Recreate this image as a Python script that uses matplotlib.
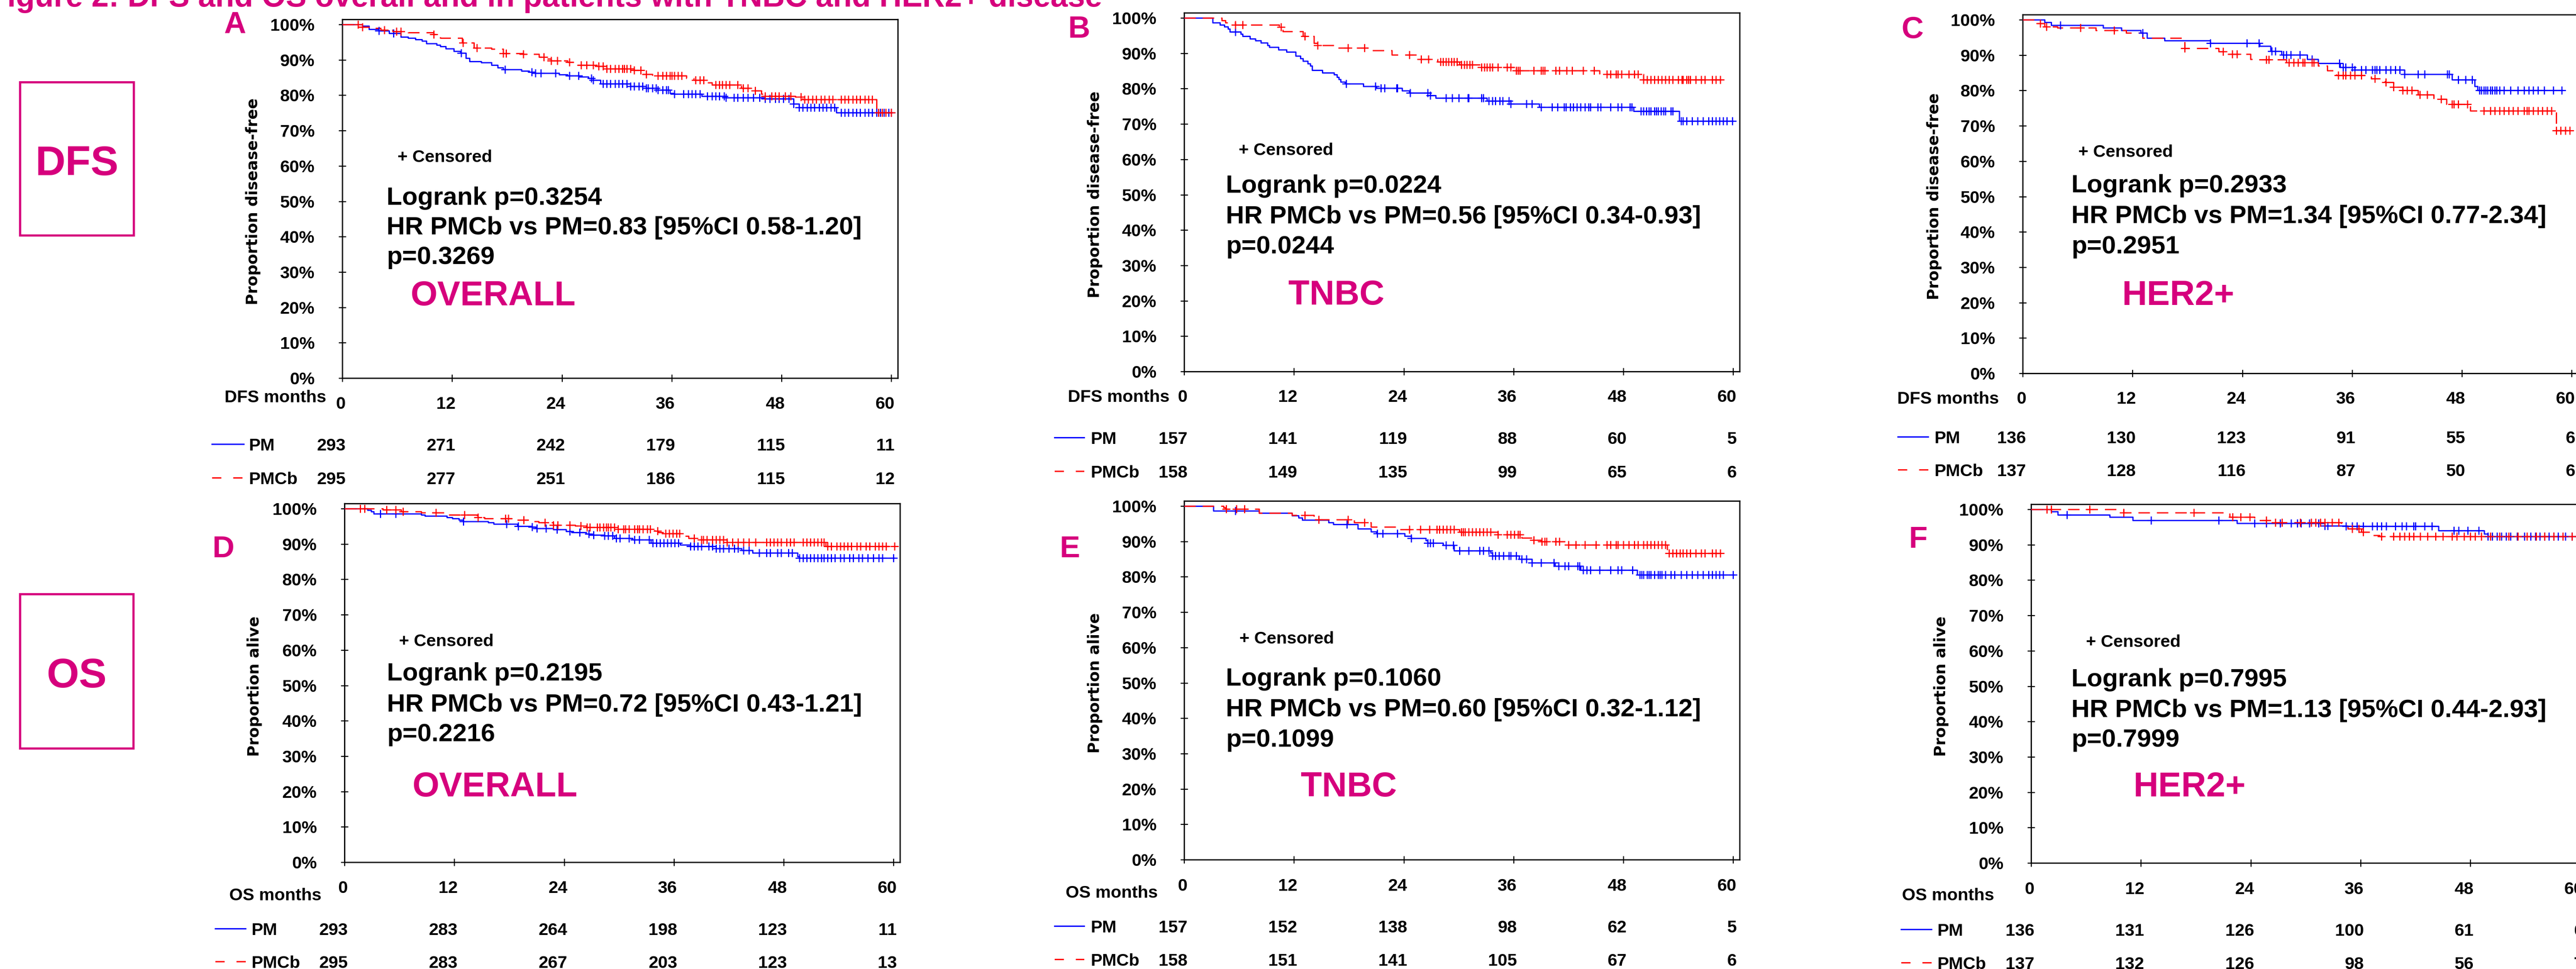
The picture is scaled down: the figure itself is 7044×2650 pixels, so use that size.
import numpy as np
import matplotlib
matplotlib.use('Agg')
import matplotlib.pyplot as plt
from matplotlib.lines import Line2D
from matplotlib.patches import Rectangle
import matplotlib.transforms as mtransforms

plt.rcParams['font.family'] = ['Liberation Sans', 'DejaVu Sans']
plt.rcParams['font.weight'] = 'bold'

# ======================= DATA =======================
TITLE = "Figure 2: DFS and OS overall and in patients with TNBC and HER2+ disease"
MONTH_TICKS = [0, 12, 24, 36, 48, 60]
PCT_TICKS = list(range(0, 101, 10))
ARMS = ["PM", "PMCb"]

# ---- Panel A: DFS overall ----
A_PM_t = [2.2, 2.9, 4.0, 5.1, 6.4, 7.2, 8.0, 8.7, 9.2, 10.3, 10.7, 11.3, 12.2, 12.9, 13.5, 13.9, 15.2, 16.3, 17.0, 17.6,
          19.6, 20.4, 21.1, 23.7, 24.6, 25.9, 26.9, 27.4, 28.2, 31.5, 33.2, 34.5, 35.8, 36.3, 39.3, 41.9, 46.2, 49.3, 49.9, 54.0]
A_PM_s = [99.6, 98.7, 98.2, 97.5, 96.5, 96.2, 95.8, 95.4, 94.6, 94.2, 93.8, 93.2, 92.5, 91.9, 90.5, 89.6, 89.2, 88.5, 87.8, 87.3,
          86.9, 86.6, 86.2, 85.8, 85.5, 85.2, 84.8, 84.3, 83.3, 82.5, 82.0, 81.5, 80.6, 80.4, 79.7, 79.3, 79.0, 77.6, 76.5, 75.1]
A_PM_end = 60.1
A_PM_c = [4.0, 5.6, 13.0, 17.8, 20.7, 21.1, 21.7, 23.3, 24.8, 25.8, 27.2, 27.4, 28.5, 28.9, 29.3, 29.8, 30.2, 30.6, 31.1, 31.5,
          31.9, 32.4, 32.8, 33.2, 33.4, 33.9, 34.3, 34.5, 35.0, 35.4, 35.6, 36.3, 37.3, 37.8, 38.2, 38.6, 39.1, 39.9, 40.4, 40.8,
          41.2, 41.7, 41.9, 42.8, 43.2, 43.8, 44.3, 44.9, 45.6, 46.2, 46.7, 47.3, 47.7, 48.2, 48.8, 49.3, 49.9, 50.3, 50.8, 51.2,
          51.6, 52.1, 52.5, 52.9, 53.4, 53.8, 54.5, 54.9, 55.3, 55.8, 56.2, 56.6, 57.1, 57.5, 57.9, 58.4, 58.8, 59.2, 59.7, 60.0]
A_PMCb_t = [1.8, 2.9, 4.2, 5.5, 7.2, 10.0, 10.7, 13.1, 14.4, 16.3, 17.6, 19.8, 21.5, 22.2, 22.8, 24.6, 25.6, 27.8, 28.9, 31.9,
            32.8, 33.9, 37.6, 38.4, 39.7, 40.4, 43.6, 44.9, 45.8, 46.2, 49.5, 50.3, 58.4]
A_PMCb_s = [99.3, 99.0, 98.4, 98.0, 97.7, 97.2, 96.2, 94.8, 93.4, 93.1, 91.8, 91.6, 90.8, 90.3, 89.8, 89.4, 88.5, 88.2, 87.5, 87.1,
            85.9, 85.5, 84.8, 84.3, 83.6, 82.9, 82.0, 81.3, 80.4, 79.7, 79.5, 78.8, 75.1]
A_PMCb_end = 60.1
A_PMCb_c = [1.7, 2.2, 4.6, 5.9, 6.4, 10.0, 13.2, 14.7, 17.6, 17.9, 19.8, 22.0, 22.8, 23.5, 24.8, 26.1, 26.7, 27.4, 28.0, 28.5,
            28.9, 29.3, 29.8, 30.2, 30.6, 30.8, 31.1, 31.5, 31.9, 32.6, 33.2, 34.5, 35.0, 35.4, 35.8, 36.0, 36.3, 36.7, 37.1, 38.6,
            39.1, 39.5, 40.8, 41.2, 41.5, 41.9, 42.3, 43.2, 43.8, 44.3, 45.1, 46.2, 46.9, 47.3, 47.7, 48.4, 49.0, 50.1, 50.5, 50.9,
            51.4, 51.8, 52.3, 52.7, 53.2, 53.6, 54.5, 54.9, 55.3, 55.8, 56.2, 56.6, 57.1, 57.5, 57.9, 58.6, 59.0, 59.4, 60.0]
A_RISK_PM = [293, 271, 242, 179, 115, 11]
A_RISK_PMCb = [295, 277, 251, 186, 115, 12]
A_STATS = ["Logrank p=0.3254", "HR PMCb vs PM=0.83 [95%CI 0.58-1.20]", "p=0.3269"]

# ---- Panel B: DFS TNBC ----
B_PM_t = [3.1, 3.9, 4.4, 4.8, 5.0, 6.2, 6.4, 7.2, 7.8, 8.4, 9.1, 9.3, 10.3, 11.2, 12.2, 12.7, 13.0, 13.5, 13.8, 14.0,
          15.1, 16.4, 16.7, 16.9, 17.1, 17.6, 19.6, 21.0, 23.8, 24.6, 26.9, 27.5, 33.1, 35.7, 38.8, 49.1, 54.1]
B_PM_s = [98.7, 98.0, 97.5, 96.9, 96.1, 95.5, 94.8, 94.1, 93.6, 93.0, 92.2, 91.7, 91.0, 90.4, 89.2, 88.5, 87.8, 87.1, 86.5, 85.2,
          84.5, 84.0, 83.3, 82.6, 81.9, 81.4, 80.7, 80.1, 79.4, 78.8, 78.1, 77.4, 76.5, 75.7, 74.8, 73.6, 70.8]
B_PM_end = 60.0
B_PM_c = [5.6, 17.7, 20.9, 21.5, 21.9, 23.2, 23.3, 24.7, 26.6, 26.9, 28.6, 29.3, 30.0, 31.0, 31.1, 32.5, 32.7, 33.3, 33.7, 34.0,
          34.5, 34.8, 35.5, 35.7, 37.4, 38.0, 39.0, 40.2, 40.8, 41.5, 41.7, 42.2, 42.5, 42.9, 43.3, 43.8, 44.2, 44.4, 45.2, 45.5,
          46.6, 47.4, 47.8, 48.7, 48.9, 49.9, 50.2, 50.5, 50.8, 51.0, 51.4, 51.6, 51.8, 52.1, 52.4, 52.6, 53.2, 53.4, 54.3, 54.5,
          54.9, 55.5, 56.1, 56.7, 57.3, 57.7, 58.1, 58.5, 58.9, 59.3, 59.9]
B_PMCb_t = [4.1, 4.5, 5.6, 10.4, 10.8, 13.0, 14.2, 14.6, 16.8, 20.4, 22.7, 25.7, 27.7, 30.1, 32.3, 36.3, 45.4, 50.2]
B_PMCb_s = [99.3, 98.7, 98.0, 97.4, 96.2, 94.8, 92.9, 92.2, 91.5, 90.8, 89.6, 88.3, 87.6, 86.8, 86.0, 85.1, 84.1, 82.5]
B_PMCb_end = 58.7
B_PMCb_c = [5.6, 6.4, 10.6, 13.2, 14.6, 17.9, 19.7, 24.6, 25.9, 26.7, 28.0, 28.3, 28.6, 28.9, 29.2, 29.5, 29.8, 30.3, 30.6, 30.9,
            31.2, 31.5, 32.5, 32.8, 33.1, 33.4, 33.7, 34.3, 35.3, 35.7, 36.3, 36.5, 36.7, 38.2, 39.0, 39.2, 39.4, 40.6, 41.0, 41.8,
            42.4, 43.6, 44.8, 46.2, 46.6, 47.2, 47.4, 47.8, 48.6, 49.2, 49.6, 50.2, 50.6, 51.0, 51.4, 51.8, 52.2, 52.6, 53.0, 53.4,
            54.0, 54.4, 54.5, 54.9, 55.1, 55.3, 55.9, 56.5, 56.9, 57.7, 58.1, 58.6]
B_RISK_PM = [157, 141, 119, 88, 60, 5]
B_RISK_PMCb = [158, 149, 135, 99, 65, 6]
B_STATS = ["Logrank p=0.0224", "HR PMCb vs PM=0.56 [95%CI 0.34-0.93]", "p=0.0244"]

# ---- Panel C: DFS HER2+ ----
C_PM_t = [2.4, 3.1, 8.8, 10.8, 12.9, 13.6, 15.5, 20.5, 25.9, 27.1, 28.3, 31.1, 32.3, 34.7, 36.3, 41.7, 46.9, 49.4, 49.7]
C_PM_s = [99.3, 98.4, 97.7, 97.0, 96.3, 94.8, 94.1, 93.4, 92.6, 91.1, 90.1, 88.8, 87.7, 86.6, 85.8, 84.6, 83.0, 81.2, 80.0]
C_PM_end = 59.0
C_PM_c = [4.1, 13.1, 20.5, 24.5, 25.8, 27.2, 27.6, 28.5, 28.8, 29.3, 30.3, 31.6, 34.6, 35.0, 35.3, 36.0, 36.3, 37.0, 37.5, 38.2,
          38.5, 38.7, 39.0, 39.7, 40.2, 40.7, 41.2, 41.7, 43.2, 43.9, 46.4, 46.6, 47.6, 48.4, 49.1, 49.9, 50.1, 50.4, 50.6, 50.8,
          51.1, 51.3, 51.6, 51.8, 52.1, 52.6, 53.3, 54.1, 54.8, 55.3, 55.8, 56.3, 57.0, 58.0, 58.9]
C_PMCb_t = [1.6, 2.4, 3.8, 8.0, 11.3, 13.1, 17.7, 21.4, 22.2, 24.9, 25.6, 28.8, 32.3, 33.3, 34.3, 38.1, 39.6, 40.5, 41.5, 43.2,
            44.9, 46.3, 48.9, 58.3]
C_PMCb_s = [99.0, 98.0, 97.7, 97.0, 96.3, 94.8, 91.9, 91.0, 90.3, 88.8, 88.7, 87.9, 87.0, 85.6, 84.3, 83.4, 82.3, 81.0, 80.0, 78.8,
            77.6, 76.1, 74.3, 68.7]
C_PMCb_end = 60.0
C_PMCb_c = [1.9, 2.6, 6.3, 10.0, 17.7, 21.9, 22.9, 23.4, 26.6, 26.9, 29.1, 29.6, 30.1, 30.6, 30.8, 31.6, 31.8, 34.5, 35.0, 35.3,
            35.8, 36.3, 37.0, 38.5, 39.7, 40.5, 41.5, 42.0, 42.5, 43.4, 44.2, 45.7, 46.9, 47.1, 47.6, 48.6, 50.4, 51.1, 51.6, 52.1,
            52.6, 53.1, 53.6, 54.1, 54.8, 55.1, 55.3, 55.8, 56.3, 56.8, 57.3, 57.8, 58.3, 58.8, 59.3, 59.8]
C_RISK_PM = [136, 130, 123, 91, 55, 6]
C_RISK_PMCb = [137, 128, 116, 87, 50, 6]
C_STATS = ["Logrank p=0.2933", "HR PMCb vs PM=1.34 [95%CI 0.77-2.34]", "p=0.2951"]

# ---- Panel D: OS overall ----
D_PM_t = [2.5, 2.9, 3.2, 8.4, 8.8, 11.2, 11.8, 12.5, 13.0, 15.7, 16.3, 18.9, 20.4, 20.9, 22.8, 24.2, 24.8, 26.4, 26.8, 28.4,
          29.5, 31.5, 33.5, 36.7, 37.8, 40.6, 43.4, 44.6, 49.5, 49.7]
D_PM_s = [99.6, 99.2, 98.6, 98.2, 97.9, 97.5, 97.2, 96.8, 96.4, 96.1, 95.7, 95.0, 94.8, 94.4, 94.1, 93.6, 93.3, 92.9, 92.6, 92.3,
          91.6, 91.2, 90.3, 89.8, 89.3, 88.7, 88.2, 87.5, 86.5, 86.0]
D_PM_end = 60.1
D_PM_c = [3.9, 5.6, 13.0, 17.7, 19.0, 20.5, 21.0, 22.0, 23.2, 24.6, 25.7, 26.7, 27.2, 28.4, 28.8, 29.3, 29.7, 30.1, 31.1, 31.7,
          32.2, 33.3, 33.7, 34.1, 34.5, 34.9, 35.3, 35.7, 36.1, 36.5, 37.8, 38.2, 38.6, 39.0, 39.8, 40.2, 40.6, 41.0, 41.4, 42.0,
          42.6, 43.0, 43.6, 44.2, 45.3, 46.1, 46.5, 47.3, 47.7, 48.5, 48.9, 49.7, 50.1, 50.5, 50.9, 51.3, 51.7, 52.1, 52.4, 52.8,
          53.2, 53.6, 54.2, 54.6, 55.2, 55.6, 56.2, 56.6, 57.2, 57.8, 58.4, 58.8, 60.0]
D_PMCb_t = [4.2, 6.2, 8.4, 11.0, 14.5, 15.3, 18.5, 20.3, 21.2, 22.8, 25.2, 26.4, 29.9, 33.9, 34.3, 35.1, 36.9, 37.6, 38.4, 41.8, 52.6]
D_PMCb_s = [99.7, 99.2, 98.9, 98.2, 97.5, 97.2, 96.8, 96.4, 96.1, 95.4, 95.1, 94.7, 94.2, 93.7, 93.3, 93.0, 92.2, 91.6, 91.2, 90.5, 89.3]
D_PMCb_end = 60.1
D_PMCb_c = [1.7, 2.2, 4.6, 5.6, 6.4, 10.0, 13.1, 14.6, 17.6, 17.9, 19.6, 21.9, 22.8, 23.3, 24.6, 25.8, 26.5, 26.8, 27.6, 27.9,
            28.3, 28.6, 28.8, 29.1, 29.5, 29.9, 30.5, 30.7, 31.1, 31.7, 32.0, 32.2, 32.6, 33.1, 33.4, 34.2, 35.1, 35.5, 35.9, 36.3,
            36.6, 38.2, 39.0, 39.2, 39.6, 40.2, 40.6, 41.0, 41.4, 41.8, 42.4, 43.0, 43.6, 44.2, 44.9, 46.1, 46.5, 46.9, 47.3, 47.7,
            48.3, 48.7, 49.1, 50.1, 50.5, 50.9, 51.3, 51.7, 52.1, 52.4, 52.8, 53.2, 53.8, 54.2, 54.6, 55.0, 55.4, 56.0, 56.4, 57.0,
            57.4, 58.0, 58.4, 58.8, 59.2, 60.1]
D_RISK_PM = [293, 283, 264, 198, 123, 11]
D_RISK_PMCb = [295, 283, 267, 203, 123, 13]
D_STATS = ["Logrank p=0.2195", "HR PMCb vs PM=0.72 [95%CI 0.43-1.21]", "p=0.2216"]

# ---- Panel E: OS TNBC ----
E_PM_t = [3.2, 8.2, 11.8, 12.5, 12.9, 15.8, 16.3, 19.0, 20.4, 21.0, 24.1, 24.8, 26.4, 26.6, 28.3, 29.5, 33.5, 33.7, 36.6, 38.0,
          40.5, 43.3, 49.5]
E_PM_s = [98.7, 98.0, 97.3, 96.7, 96.1, 95.3, 94.8, 93.6, 92.8, 92.2, 91.5, 90.9, 90.3, 89.6, 88.9, 87.4, 86.8, 85.9, 85.0, 84.0,
          83.0, 81.9, 80.6]
E_PM_end = 60.1
E_PM_c = [5.6, 17.8, 21.1, 21.7, 23.3, 24.8, 26.6, 26.9, 27.2, 28.6, 29.4, 30.1, 31.1, 32.3, 32.7, 33.3, 33.7, 34.0, 34.4, 34.9,
          35.5, 35.7, 36.3, 36.9, 37.4, 38.0, 39.0, 40.4, 40.9, 41.6, 42.0, 43.0, 43.2, 43.6, 44.0, 44.4, 45.4, 46.6, 47.4, 47.8,
          49.0, 49.8, 50.0, 50.2, 50.6, 50.8, 51.0, 51.4, 51.8, 52.0, 52.2, 52.6, 53.2, 53.6, 54.3, 54.9, 55.5, 56.1, 56.7, 57.3,
          57.7, 58.1, 58.5, 58.9, 60.0]
E_PMCb_t = [4.3, 4.5, 8.2, 11.8, 14.2, 18.6, 20.4, 23.5, 30.1, 34.3, 36.9, 38.2, 39.0, 41.8, 52.8]
E_PMCb_s = [99.6, 99.2, 98.0, 97.4, 96.2, 95.3, 94.1, 93.4, 92.7, 91.9, 91.0, 90.4, 90.0, 89.0, 86.7]
E_PMCb_end = 58.7
E_PMCb_c = [4.6, 5.7, 6.6, 13.2, 14.7, 17.9, 19.7, 24.6, 25.8, 26.8, 27.6, 27.9, 28.3, 28.7, 29.1, 29.5, 30.3, 30.5, 30.7, 31.1,
            31.5, 31.9, 32.3, 32.7, 33.1, 33.5, 34.3, 35.3, 35.7, 36.1, 36.5, 36.7, 38.2, 39.1, 39.4, 39.6, 40.6, 41.0, 42.0, 42.8,
            43.8, 45.0, 46.2, 46.6, 47.2, 47.4, 48.0, 48.6, 49.2, 49.6, 50.2, 50.6, 51.0, 51.4, 51.8, 52.2, 52.6, 53.0, 53.4, 53.8,
            54.2, 54.5, 54.9, 55.3, 55.9, 56.5, 56.9, 57.7, 58.1, 58.6]
E_RISK_PM = [157, 152, 138, 98, 62, 5]
E_RISK_PMCb = [158, 151, 141, 105, 67, 6]
E_STATS = ["Logrank p=0.1060", "HR PMCb vs PM=0.60 [95%CI 0.32-1.12]", "p=0.1099"]

# ---- Panel F: OS HER2+ ----
F_PM_t = [2.2, 2.9, 8.6, 11.1, 22.5, 32.1, 34.4, 44.5, 49.5, 49.9]
F_PM_s = [99.4, 98.5, 97.8, 96.9, 96.1, 95.4, 95.2, 94.0, 93.1, 92.3]
F_PM_end = 60.0
F_PM_c = [3.9, 13.1, 20.5, 24.4, 25.7, 27.2, 28.4, 29.1, 29.5, 30.4, 31.4, 32.1, 32.4, 34.4, 35.1, 35.6, 36.3, 37.3, 37.8, 38.3,
          38.8, 39.8, 40.5, 41.0, 41.8, 42.0, 43.0, 43.8, 46.2, 46.7, 47.7, 48.9, 49.9, 50.4, 50.9, 51.4, 51.9, 52.4, 53.1, 53.9,
          54.6, 55.1, 55.6, 56.1, 56.6, 57.1, 57.6, 58.4, 59.1]
F_PMCb_t = [10.1, 21.7, 24.4, 26.4, 33.9, 34.6, 36.1, 37.2, 38.1]
F_PMCb_s = [99.1, 97.8, 96.9, 96.3, 95.4, 94.5, 93.6, 92.7, 92.3]
F_PMCb_end = 60.0
F_PMCb_c = [1.7, 2.2, 6.4, 10.1, 17.8, 22.0, 22.9, 23.9, 25.7, 26.7, 27.4, 29.4, 30.6, 31.1, 31.6, 32.1, 32.9, 33.6, 35.1, 35.8,
            36.3, 38.3, 39.6, 40.3, 40.8, 41.3, 41.8, 42.5, 43.3, 44.2, 45.0, 46.0, 46.5, 47.3, 48.0, 48.5, 49.2, 50.2, 51.2, 52.2,
            53.2, 54.2, 55.2, 56.1, 57.1, 58.1, 59.1]
F_RISK_PM = [136, 131, 126, 100, 61, 6]
F_RISK_PMCb = [137, 132, 126, 98, 56, 7]
F_STATS = ["Logrank p=0.7995", "HR PMCb vs PM=1.13 [95%CI 0.44-2.93]", "p=0.7999"]

# ======================= STYLE / LAYOUT =======================
W, H = 7044, 2650
MAG = '#D6007D'
BLUE = '#0000FF'
RED = '#FF0000'
TICK_FS = 34
STAT_FS = 50
GROUP_FS = 68
LETTER_FS = 60
BOX_FS = 82
TITLE_FS = 61
YLAB_FS = 30.5
CURVE_LW = 2.5
AX_W, AX_H = 1519, 981
XMAX, YMAX = 60.7, 101.45

fig = plt.figure(figsize=(W / 100, H / 100), dpi=100)


def fx(x):
    return x / W


def fy(y):
    return 1 - y / H


PANELS = [
    dict(letter='A', group='OVERALL', ylabel='Proportion disease-free', xname='DFS months',
         pm=(A_PM_t, A_PM_s, A_PM_end, A_PM_c), pmcb=(A_PMCb_t, A_PMCb_s, A_PMCb_end, A_PMCb_c),
         risk=(A_RISK_PM, A_RISK_PMCb), stats=A_STATS,
         left=936, y0=1034, letter_xy=(643, 90), ylab_xy=(692, 551), cens=(1087, 443), stat_x=1057,
         stat_y=(560, 641, 722), group_xy=(1122, 835), tick_y=1118, xname_xy=(892, 1100),
         rows=(1232, 1324), leg=(580, 667, 681)),
    dict(letter='B', group='TNBC', ylabel='Proportion disease-free', xname='DFS months',
         pm=(B_PM_t, B_PM_s, B_PM_end, B_PM_c), pmcb=(B_PMCb_t, B_PMCb_s, B_PMCb_end, B_PMCb_c),
         risk=(B_RISK_PM, B_RISK_PMCb), stats=B_STATS,
         left=3238, y0=1016, letter_xy=(2950, 103), ylab_xy=(2994, 532), cens=(3387, 424), stat_x=3352,
         stat_y=(527, 611, 693), group_xy=(3523, 833), tick_y=1099, xname_xy=(3198, 1099),
         rows=(1214, 1306), leg=(2884, 2965, 2983)),
    dict(letter='C', group='HER2+', ylabel='Proportion disease-free', xname='DFS months',
         pm=(C_PM_t, C_PM_s, C_PM_end, C_PM_c), pmcb=(C_PMCb_t, C_PMCb_s, C_PMCb_end, C_PMCb_c),
         risk=(C_RISK_PM, C_RISK_PMCb), stats=C_STATS,
         left=5531, y0=1021, letter_xy=(5230, 104), ylab_xy=(5289, 537), cens=(5683, 429), stat_x=5664,
         stat_y=(526, 610, 693), group_xy=(5803, 834), tick_y=1104, xname_xy=(5466, 1104),
         rows=(1212, 1302), leg=(5190, 5273, 5290)),
    dict(letter='D', group='OVERALL', ylabel='Proportion alive', xname='OS months',
         pm=(D_PM_t, D_PM_s, D_PM_end, D_PM_c), pmcb=(D_PMCb_t, D_PMCb_s, D_PMCb_end, D_PMCb_c),
         risk=(D_RISK_PM, D_RISK_PMCb), stats=D_STATS,
         left=942, y0=2358, letter_xy=(610, 1524), ylab_xy=(696, 1877), cens=(1091, 1767), stat_x=1058,
         stat_y=(1861, 1946, 2027), group_xy=(1127, 2178), tick_y=2442, xname_xy=(879, 2462),
         rows=(2557, 2647), leg=(589, 672, 688)),
    dict(letter='E', group='TNBC', ylabel='Proportion alive', xname='OS months',
         pm=(E_PM_t, E_PM_s, E_PM_end, E_PM_c), pmcb=(E_PMCb_t, E_PMCb_s, E_PMCb_end, E_PMCb_c),
         risk=(E_RISK_PM, E_RISK_PMCb), stats=E_STATS,
         left=3238, y0=2351, letter_xy=(2925, 1524), ylab_xy=(2994, 1868), cens=(3389, 1760), stat_x=3352,
         stat_y=(1875, 1959, 2042), group_xy=(3557, 2178), tick_y=2436, xname_xy=(3166, 2455),
         rows=(2550, 2641), leg=(2884, 2965, 2983)),
    dict(letter='F', group='HER2+', ylabel='Proportion alive', xname='OS months',
         pm=(F_PM_t, F_PM_s, F_PM_end, F_PM_c), pmcb=(F_PMCb_t, F_PMCb_s, F_PMCb_end, F_PMCb_c),
         risk=(F_RISK_PM, F_RISK_PMCb), stats=F_STATS,
         left=5554, y0=2360, letter_xy=(5245, 1498), ylab_xy=(5308, 1877), cens=(5704, 1769), stat_x=5664,
         stat_y=(1877, 1961, 2042), group_xy=(5834, 2178), tick_y=2445, xname_xy=(5453, 2462),
         rows=(2559, 2650), leg=(5199, 5282, 5298)),
]


def draw_km(ax, data, color, dashed):
    t, s, end, c = data
    tt = np.concatenate([[0.0], np.asarray(t, float), [end]])
    ss = np.concatenate([[100.0], np.asarray(s, float), [s[-1]]])
    lines = ax.step(tt, ss, where='post', color=color, lw=CURVE_LW, zorder=3)
    if dashed:
        for ln in lines:
            ln.set_dashes([9, 5.5])
    cc = np.asarray(c, float)
    idx = np.clip(np.searchsorted(tt, cc, side='right') - 1, 0, len(ss) - 1)
    ax.plot(cc, ss[idx], ls='none', marker='+', ms=16, mew=2.3, color=color, zorder=4)


for p in PANELS:
    left, y0 = p['left'], p['y0']
    ax = fig.add_axes([fx(left), fy(y0), AX_W / W, AX_H / H])
    ax.set_xlim(0, XMAX)
    ax.set_ylim(0, YMAX)
    ax.set_xticks(MONTH_TICKS)
    ax.set_xticklabels([])
    ax.set_yticks(PCT_TICKS)
    ax.set_yticklabels([f"{v}%" for v in PCT_TICKS], fontsize=TICK_FS, fontweight='bold')
    ax.tick_params(axis='both', direction='inout', length=15, width=2.0)
    ax.tick_params(axis='y', pad=47)
    for sp in ax.spines.values():
        sp.set_linewidth(2.5)
    ax.set_facecolor('none')

    draw_km(ax, p['pm'], BLUE, False)
    draw_km(ax, p['pmcb'], RED, True)

    # x tick labels and numbers at risk (right aligned under the tick)
    trans = mtransforms.offset_copy(
        mtransforms.blended_transform_factory(ax.transData, fig.transFigure),
        fig=fig, x=9, y=0, units='dots')
    for m in MONTH_TICKS:
        ax.text(m, fy(p['tick_y']), str(m), transform=trans, ha='right', va='baseline',
                fontsize=TICK_FS, fontweight='bold', clip_on=False)
    for row_y, vals in zip(p['rows'], p['risk']):
        for m, v in zip(MONTH_TICKS, vals):
            ax.text(m, fy(row_y), str(v), transform=trans, ha='right', va='baseline',
                    fontsize=TICK_FS, fontweight='bold', clip_on=False)

    # months label
    fig.text(fx(p['xname_xy'][0]), fy(p['xname_xy'][1]), p['xname'], ha='right', va='baseline',
             fontsize=TICK_FS, fontweight='bold')

    # legend samples + arm labels
    x1, x2, xl = p['leg']
    ypm = p['rows'][0] - 17
    ypmcb = p['rows'][1] - 17
    fig.add_artist(Line2D([fx(x1), fx(x2)], [fy(ypm), fy(ypm)], transform=fig.transFigure,
                          color=BLUE, lw=2.6))
    fig.add_artist(Line2D([fx(x1), fx(x2)], [fy(ypmcb), fy(ypmcb)], transform=fig.transFigure,
                          color=RED, lw=2.6, dashes=[7, 9]))
    fig.text(fx(xl), fy(p['rows'][0]), ARMS[0], ha='left', va='baseline', fontsize=TICK_FS, fontweight='bold')
    fig.text(fx(xl), fy(p['rows'][1]), ARMS[1], ha='left', va='baseline', fontsize=TICK_FS, fontweight='bold')

    # y label
    fig.text(fx(p['ylab_xy'][0]), fy(p['ylab_xy'][1]), p['ylabel'], rotation=90, ha='center', va='center',
             fontsize=YLAB_FS, fontweight='bold', family=['DejaVu Sans'])

    # panel letter
    fig.text(fx(p['letter_xy'][0]), fy(p['letter_xy'][1]), p['letter'], ha='center', va='baseline',
             fontsize=LETTER_FS, fontweight='bold', color=MAG)

    # censored note
    fig.text(fx(p['cens'][0]), fy(p['cens'][1]), "+ Censored", ha='left', va='baseline',
             fontsize=TICK_FS, fontweight='bold')

    # statistics
    for line, yb in zip(p['stats'], p['stat_y']):
        fig.text(fx(p['stat_x']), fy(yb), line, ha='left', va='baseline', fontsize=STAT_FS, fontweight='bold')

    # group label
    fig.text(fx(p['group_xy'][0]), fy(p['group_xy'][1]), p['group'], ha='left', va='baseline',
             fontsize=GROUP_FS, fontweight='bold', color=MAG)

# left row boxes
for label, (x0, y_top, x1b, y_bot), base in [("DFS", (55, 225, 366, 644), 479),
                                              ("OS", (55, 1625, 365, 2047), 1880)]:
    fig.add_artist(Rectangle((fx(x0), fy(y_bot)), (x1b - x0) / W, (y_bot - y_top) / H,
                             transform=fig.transFigure, fill=False, edgecolor=MAG, lw=4.3))
    fig.text(fx((x0 + x1b) / 2), fy(base), label, ha='center', va='baseline',
             fontsize=BOX_FS, fontweight='bold', color=MAG)

# title (cut off by the top edge as in the source)
fig.text(fx(-32), fy(18), TITLE, ha='left', va='baseline', fontsize=TITLE_FS, fontweight='bold', color=MAG)

fig.savefig('out.png', dpi=100)
